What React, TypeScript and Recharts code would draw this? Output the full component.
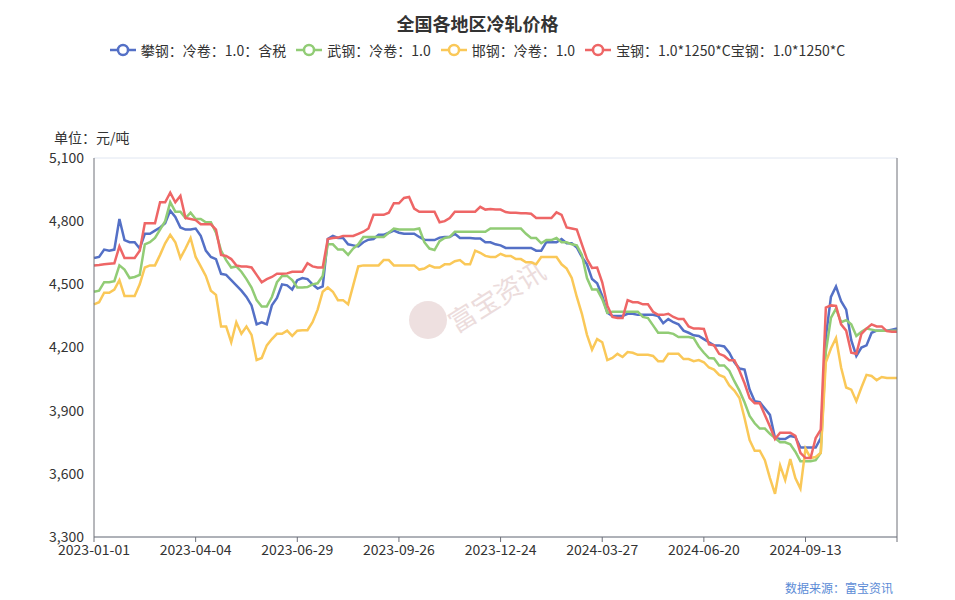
import React from "react";
import { LineChart, Line, XAxis, YAxis, CartesianGrid } from "recharts";

// tick labels along the category axis, one every 20 points
const tickLabels = [
  "2023-01-01",
  "2023-04-04",
  "2023-06-29",
  "2023-09-26",
  "2023-12-24",
  "2024-03-27",
  "2024-06-20",
  "2024-09-13",
];

const yTicks = [3300, 3600, 3900, 4200, 4500, 4800, 5100];

// 攀钢：冷卷：1.0：含税
const pangang = [
  4625, 4630, 4665, 4660, 4665, 4810, 4710, 4700, 4700, 4670,
  4740, 4740, 4755, 4770, 4790, 4850, 4820, 4770, 4760, 4760,
  4765, 4730, 4660, 4630, 4620, 4550, 4545, 4520, 4495, 4470,
  4440, 4400, 4310, 4320, 4310, 4400, 4435, 4500, 4495, 4475,
  4520, 4530, 4525, 4500, 4480, 4490, 4715, 4730, 4720, 4720,
  4690, 4685, 4680, 4700, 4712, 4715, 4735, 4735, 4745, 4755,
  4745, 4740, 4740, 4740, 4725, 4712, 4710, 4710, 4722, 4725,
  4725, 4740, 4720, 4720, 4720, 4718, 4718, 4700, 4700, 4690,
  4685, 4673, 4673, 4673, 4673, 4673, 4673, 4660, 4660, 4700,
  4700, 4700, 4715, 4695, 4695, 4675, 4630, 4595, 4525, 4505,
  4445, 4365, 4350, 4350, 4350, 4360, 4360, 4355, 4355, 4355,
  4355, 4350, 4315, 4335, 4320, 4310, 4280, 4270, 4258, 4255,
  4240, 4225, 4210, 4210, 4205, 4175, 4130, 4100, 4095, 4000,
  3945, 3940, 3910, 3880, 3770, 3765, 3765, 3780, 3775, 3725,
  3725, 3725, 3725, 3770, 4250, 4440, 4490, 4420, 4380, 4235,
  4160, 4200, 4210, 4270, 4280, 4280, 4280, 4285, 4290,
];

// 武钢：冷卷：1.0
const wugang = [
  4465, 4470, 4510, 4510, 4515, 4590, 4570, 4530, 4535, 4545,
  4690, 4700, 4720, 4760, 4800, 4890, 4845, 4845, 4815, 4840,
  4810, 4810, 4795, 4795, 4745, 4660, 4615, 4580, 4585, 4560,
  4525, 4485, 4425, 4395, 4395, 4440, 4510, 4540, 4540, 4520,
  4485, 4485, 4487, 4500, 4505, 4540, 4690, 4690, 4665, 4665,
  4640, 4670, 4690, 4725, 4725, 4725, 4725, 4725, 4745, 4765,
  4760, 4760, 4760, 4760, 4765, 4700, 4670, 4663, 4705, 4720,
  4725, 4750, 4750, 4750, 4750, 4750, 4750, 4750, 4765, 4765,
  4765, 4765, 4765, 4765, 4765, 4740, 4720, 4720, 4695, 4710,
  4710, 4720, 4700, 4700, 4690, 4685, 4640, 4530, 4475, 4475,
  4430, 4365, 4370, 4370, 4370, 4370, 4370, 4370, 4345, 4340,
  4305, 4270, 4270, 4270, 4265, 4250, 4250, 4250, 4245, 4205,
  4175, 4150, 4148, 4115, 4115, 4090, 4040, 3995, 3940, 3875,
  3840, 3815, 3815, 3790, 3770, 3750, 3750, 3740, 3705, 3660,
  3660, 3660, 3665, 3700, 4180, 4340, 4385, 4320, 4330, 4310,
  4255, 4275, 4290, 4285, 4280, 4280, 4280, 4280, 4280,
];

// 邯钢：冷卷：1.0
const hangang = [
  4405, 4415, 4460, 4460, 4475, 4520, 4445, 4445, 4445, 4500,
  4580, 4590, 4590, 4640, 4695, 4735, 4700, 4625, 4670, 4720,
  4630, 4585, 4540, 4470, 4450, 4300, 4300, 4225, 4320, 4265,
  4300, 4260, 4140, 4150, 4210, 4240, 4265, 4265, 4280, 4255,
  4280, 4282, 4282, 4320, 4380, 4465, 4485, 4465, 4425, 4425,
  4405, 4495, 4585, 4590, 4590, 4590, 4590, 4615, 4615, 4590,
  4590, 4590, 4590, 4590, 4570, 4575, 4590, 4580, 4580, 4595,
  4595, 4610, 4615, 4595, 4595, 4660, 4650, 4635, 4630, 4630,
  4645, 4635, 4635, 4620, 4620, 4605, 4605, 4595, 4630, 4630,
  4630, 4630, 4595, 4575, 4530, 4440, 4360, 4260, 4190, 4240,
  4225, 4140, 4150, 4170, 4155, 4178, 4175, 4165, 4165, 4165,
  4160, 4135, 4135, 4170, 4170, 4170, 4145, 4145, 4135, 4140,
  4130, 4105, 4095, 4070, 4060, 4020, 3995, 3960, 3865, 3760,
  3710, 3710, 3665, 3580, 3505, 3640, 3570, 3670, 3580, 3530,
  3720, 3675, 3680, 3700, 4130, 4195, 4245, 4105, 4010, 4000,
  3945, 4010, 4070, 4065, 4045, 4060, 4055, 4055, 4055,
];

// 宝钢：1.0*1250*C
const baogang = [
  4590, 4592, 4595, 4598, 4600, 4680, 4625, 4625, 4625, 4660,
  4790, 4790, 4790, 4890, 4890, 4935, 4890, 4920, 4815, 4810,
  4805, 4785, 4785, 4785, 4760, 4640, 4635, 4620, 4590, 4585,
  4585, 4580, 4545, 4510, 4525, 4535, 4550, 4550, 4552, 4560,
  4560, 4560, 4600, 4585, 4580, 4580, 4715, 4720, 4722, 4730,
  4730, 4730, 4740, 4750, 4765, 4830, 4830, 4830, 4840, 4885,
  4885, 4910, 4915, 4860, 4845, 4845, 4845, 4845, 4795, 4800,
  4815, 4845, 4845, 4845, 4845, 4845, 4868, 4855, 4858, 4855,
  4855, 4843, 4840, 4840, 4838, 4838, 4835, 4815, 4815, 4815,
  4815, 4842, 4830, 4770, 4765, 4760, 4690, 4620, 4578, 4580,
  4510, 4400, 4345, 4340, 4340, 4425, 4415, 4415, 4405, 4405,
  4370, 4355, 4355, 4360, 4345, 4335, 4335, 4300, 4290, 4290,
  4288, 4215, 4210, 4170, 4160, 4140, 4140, 4090, 4030, 3960,
  3935, 3935, 3880, 3825, 3765, 3795, 3795, 3795, 3780, 3700,
  3675, 3675, 3770, 3810, 4390, 4400, 4398, 4310, 4280, 4175,
  4170, 4265, 4290, 4310, 4300, 4300, 4278, 4275, 4275,
];

const series = [
  { key: "pangang", name: "攀钢：冷卷：1.0：含税", color: "#5470c6" },
  { key: "wugang", name: "武钢：冷卷：1.0", color: "#91cc75" },
  { key: "hangang", name: "邯钢：冷卷：1.0", color: "#fac858" },
  { key: "baogang", name: "宝钢：1.0*1250*C宝钢：1.0*1250*C", color: "#ee6666" },
];

const data = pangang.map((v, i) => ({
  idx: i,
  pangang: v,
  wugang: wugang[i],
  hangang: hangang[i],
  baogang: baogang[i],
}));

const lastIdx = pangang.length - 1;
const xTicks = [...tickLabels.map((_, i) => i * 20), lastIdx];

const font = "'Microsoft YaHei', 'Noto Sans CJK SC', 'Noto Sans', sans-serif";
const axisColor = "#6e7079";

function LegendIcon({ color }: { color: string }) {
  return (
    <svg width={26} height={14} style={{ display: "block" }}>
      <line x1={0} y1={7} x2={26} y2={7} stroke={color} strokeWidth={2.5} />
      <circle cx={13} cy={7} r={5} fill="#fff" stroke={color} strokeWidth={2.5} />
    </svg>
  );
}

export default function App() {
  return (
    <div style={{ position: "relative", width: 955, height: 600, fontFamily: font, background: "#fff" }}>
      <style>{`body{margin:0}`}</style>
      <div
        style={{
          position: "absolute",
          top: 10,
          left: 0,
          width: 955,
          textAlign: "center",
          fontSize: 18,
          fontWeight: "bold",
          color: "#333",
        }}
      >
        全国各地区冷轧价格
      </div>
      <div
        style={{
          position: "absolute",
          top: 40,
          left: 0,
          width: 955,
          display: "flex",
          justifyContent: "center",
          gap: 10,
          fontSize: 14,
          color: "#333",
          lineHeight: "20px",
        }}
      >
        {series.map((s) => (
          <div key={s.key} style={{ display: "flex", alignItems: "center", gap: 5 }}>
            <LegendIcon color={s.color} />
            <span>{s.name}</span>
          </div>
        ))}
      </div>
      <div style={{ position: "absolute", top: 127, left: 54, fontSize: 14, color: "#333" }}>单位：元/吨</div>

      {/* watermark */}
      <div
        style={{
          position: "absolute",
          left: 409,
          top: 301,
          width: 38,
          height: 38,
          borderRadius: "50%",
          background: "#ead8d8",
          opacity: 0.8,
        }}
      />
      <div
        style={{
          position: "absolute",
          left: 442,
          top: 276,
          fontSize: 27,
          color: "#ecdcdc",
          transform: "rotate(-32deg)",
          transformOrigin: "center",
          whiteSpace: "nowrap",
        }}
      >
        富宝资讯
      </div>

      <div style={{ position: "absolute", top: 0, left: 0 }}>
        <LineChart
          width={955}
          height={600}
          data={data}
          margin={{ top: 158, right: 57, left: 34, bottom: 33 }}
        >
          <CartesianGrid vertical={false} stroke="#e0e6f1" />
          <XAxis
            dataKey="idx"
            type="number"
            domain={[0, lastIdx]}
            ticks={xTicks}
            interval={0}
            tickFormatter={(v: number) => tickLabels[v / 20] ?? ""}
            height={30}
            tickSize={5}
            tickMargin={3}
            stroke={axisColor}
            tick={{ fill: "#333", fontSize: 14, fontFamily: font }}
          />
          <YAxis
            yAxisId="left"
            domain={[3300, 5100]}
            ticks={yTicks}
            interval={0}
            width={60}
            tickLine={false}
            tickSize={0}
            tickMargin={10}
            stroke={axisColor}
            tickFormatter={(v: number) => v.toLocaleString("en-US")}
            tick={{ fill: "#333", fontSize: 14, fontFamily: font }}
          />
          <YAxis
            yAxisId="right"
            orientation="right"
            domain={[3300, 5100]}
            width={1}
            tick={false}
            tickLine={false}
            stroke={axisColor}
          />
          {series.map((s) => (
            <Line
              key={s.key}
              yAxisId="left"
              type="linear"
              dataKey={s.key}
              name={s.name}
              stroke={s.color}
              strokeWidth={2.5}
              dot={false}
              isAnimationActive={false}
            />
          ))}
        </LineChart>
      </div>

      <div style={{ position: "absolute", top: 579, left: 785, fontSize: 12, color: "#5b8bd6" }}>
        数据来源：富宝资讯
      </div>
    </div>
  );
}
